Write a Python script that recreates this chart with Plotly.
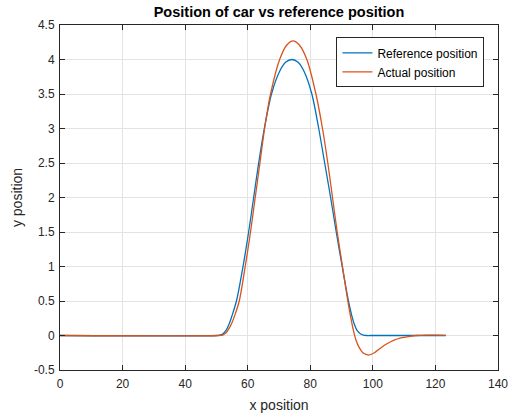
import plotly.graph_objects as go

# Reference trajectory (x, y)
ref_x = [0, 50, 51, 52, 53, 54, 55, 56.4, 58.5, 60.3, 61.9, 63.5, 65.3, 67.6, 70.1, 72.1,
         74.1, 76.1, 78.1, 80.5, 82.7, 84.6, 86.5, 88.3, 90.2, 92.2, 93.2, 94.1, 95.0, 96.0,
         97.0, 98.0, 100, 123.3]
ref_y = [0, 0, 0.005, 0.02, 0.07, 0.16, 0.29, 0.5, 1.0, 1.5, 2.0, 2.5, 3.0, 3.5, 3.82, 3.96,
         4.0, 3.96, 3.82, 3.5, 3.0, 2.5, 2.0, 1.5, 1.0, 0.5, 0.3, 0.16, 0.07, 0.025,
         0.005, 0, 0, 0]

# Actual car trajectory (x, y)
act_x = [0, 51, 52, 53, 54, 55, 56, 57.3, 59.2, 60.9, 62.4, 63.9, 65.4, 67.3, 70.2, 72.5,
         74.5, 76.5, 78.9, 81.8, 83.9, 85.6, 87.1, 88.6, 90.3, 92.0, 92.9, 93.8, 94.7, 95.7,
         96.8, 98.6, 100.5, 102.5, 104.5, 106.6, 109.0, 111.9, 114.0, 117.0, 120.0, 123.3]
act_y = [0, 0, 0.005, 0.035, 0.10, 0.19, 0.31, 0.5, 1.0, 1.5, 2.0, 2.5, 3.0, 3.5, 4.0, 4.21,
         4.27, 4.21, 4.0, 3.5, 3.0, 2.5, 2.0, 1.5, 1.0, 0.5, 0.27, 0.07, -0.08, -0.18,
         -0.25, -0.283, -0.25, -0.18, -0.12, -0.07, -0.035, -0.012, 0.0, 0.006, 0.004, 0.002]

x_ticks = [0, 20, 40, 60, 80, 100, 120, 140]
y_ticks = [-0.5, 0, 0.5, 1, 1.5, 2, 2.5, 3, 3.5, 4, 4.5]

BLUE = "#0072BD"
ORANGE = "#D95319"
AXIS = "#262626"
GRID = "#e3e3e3"
FONT = "Liberation Sans, Arial, sans-serif"

fig = go.Figure()
fig.add_trace(go.Scatter(x=ref_x, y=ref_y, mode="lines", name="Reference position",
                         line=dict(color=BLUE, width=1.3, shape="spline", smoothing=0.8)))
fig.add_trace(go.Scatter(x=act_x, y=act_y, mode="lines", name="Actual position",
                         line=dict(color=ORANGE, width=1.3, shape="spline", smoothing=0.8)))

axis_common = dict(
    showgrid=True, gridcolor=GRID, gridwidth=1,
    showline=True, linecolor=AXIS, linewidth=1, mirror="allticks",
    ticks="inside", ticklen=5, tickcolor=AXIS, tickwidth=1,
    zeroline=False, automargin=False,
    tickfont=dict(family=FONT, size=12, color=AXIS),
)

fig.update_xaxes(range=[0, 140], tickvals=x_ticks, ticktext=[str(v) for v in x_ticks],
                 ticklabelstandoff=3,
                 title=dict(text="x position", font=dict(family=FONT, size=14, color=AXIS),
                            standoff=9),
                 **axis_common)
fig.update_yaxes(range=[-0.5, 4.5], tickvals=y_ticks, ticktext=[f"{v:g}" for v in y_ticks],
                 ticklabelstandoff=2,
                 title=dict(text="y position", font=dict(family=FONT, size=14, color=AXIS),
                            standoff=8),
                 **axis_common)

fig.update_layout(
    width=514, height=417,
    margin=dict(l=60, r=16, t=25, b=47),
    paper_bgcolor="white", plot_bgcolor="white",
    title=dict(text="<b>Position of car vs reference position</b>",
               font=dict(family=FONT, size=14.5, color="#000000"),
               x=0.5, xref="paper", xanchor="center",
               y=1 - 12 / 417, yref="container", yanchor="middle"),
    legend=dict(x=0.969, y=0.964, xanchor="right", yanchor="top",
                bgcolor="white", bordercolor=AXIS, borderwidth=1,
                font=dict(family=FONT, size=12, color="#000000"),
                tracegroupgap=0),
    showlegend=True,
)

fig.write_html("out.html")
